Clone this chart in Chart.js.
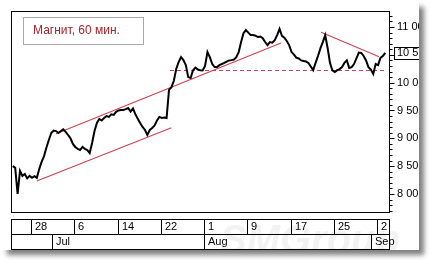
<!DOCTYPE html>
<html><head><meta charset="utf-8">
<script src="https://cdn.jsdelivr.net/npm/chart.js@4.4.1/dist/chart.umd.min.js"></script>
<style>
html,body{margin:0;padding:0;background:#fff;width:432px;height:262px;overflow:hidden}
#wrap{position:absolute;left:0;top:0;width:419px;height:250px;background:#fff;box-shadow:6px 6px 5px -1px rgba(0,0,0,0.5);}
canvas{display:block}
</style></head><body>
<div id="wrap"><canvas id="c" width="419" height="250"></canvas></div>
<script>
const titleText = 'Магнит, 60 мин.';
// hourly closes (one value per bar position)
const prices = [
 8500,8470,8000,8415,8325,8360,8280,8325,8290,8320,
 8290,8450,8575,8680,8835,8970,9095,9140,9130,9095,
 9130,9160,9115,9060,9000,8900,8845,8810,8790,8845,
 8810,8790,8735,8915,9130,9275,9350,9320,9365,9400,
 9385,9430,9420,9475,9500,9510,9510,9525,9545,9480,
 9535,9435,9350,9275,9205,9150,9060,9150,9185,9230,
 9320,9385,9365,9375,9365,9870,9920,10030,10245,10370,
 10460,10405,10315,10100,10085,10225,10270,10235,10225,10220,
 10300,10550,10460,10335,10280,10280,10315,10335,10355,10380,
 10400,10405,10415,10460,10550,10730,10890,10945,10900,10855,
 10855,10845,10820,10830,10800,10730,10675,10730,10720,10765,
 10855,10965,10840,10810,10750,10675,10550,10505,10450,10435,
 10400,10390,10380,10355,10290,10225,10355,10480,10615,10730,
 10855,10625,10355,10220,10190,10225,10245,10280,10355,10400,
 10265,10280,10335,10435,10540,10535,10480,10400,10280,10235,
 10155,10335,10315,10445,10480,10535
];
const dayTicks = [8,26,44,62,80,98,116,134,152];
const dayLabels = ['28','6','14','22','1','9','17','25','2'];
const monthStarts = [16.7,80,149.4];
const monthLabels = ['Jul','Aug','Sep'];
const channelLow = [[10,8235],[66,9190]];
const channelHigh = [[18,9082],[111.6,10715]];
const supportLine = [[65.4,10218],[154.5,10218]];
const resistLine = [[128.3,10905],[152.4,10466]];
const yMin = 7676, yMax = 11288, yMajor = 500, yMinor = 100;
const xMin = -0.75, xMax = 156.55;

const fmt = v => String(Math.round(v)).replace(/\B(?=(\d{3})+(?!\d))/g,' ');
const toXY = arr => arr.map(p => ({x:p[0], y:p[1]}));
const RED = 'rgb(208,64,80)';
Chart.defaults.font.family = 'Liberation Sans';

const decor = {
  id:'decor',
  afterDraw(chart){
    const {ctx, chartArea:a, scales:{x, y}} = chart;
    ctx.save();
    ctx.strokeStyle = '#000'; ctx.lineWidth = 1;
    ctx.strokeRect(a.left+0.5, a.top+0.5, a.right-a.left, a.bottom-a.top);
    for(let v=Math.ceil(yMin/yMinor)*yMinor; v<=yMax; v+=yMinor){
      const py = Math.round(y.getPixelForValue(v))+0.5;
      ctx.beginPath(); ctx.moveTo(a.right+0.5, py);
      ctx.lineTo(a.right+0.5+(v%yMajor===0?5:3), py); ctx.stroke();
    }
    const last = prices[prices.length-1];
    const lp = y.getPixelForValue(last);
    ctx.fillStyle = '#fff';
    ctx.fillRect(a.right+5, lp-6, 30, 12);
    ctx.strokeRect(a.right+5.5, Math.round(lp-6)+0.5, 29, 12);
    ctx.fillStyle = '#000'; ctx.font = '11px Liberation Sans'; ctx.textBaseline='middle'; ctx.textAlign='left';
    ctx.fillText(fmt(last), a.right+8, lp+0.5);
    ctx.fillStyle = '#fff';
    ctx.fillRect(a.left+12, a.top+6, 120, 27);
    ctx.strokeStyle = '#a8a8a8';
    ctx.strokeRect(a.left+12.5, a.top+6.5, 120, 27);
    ctx.fillStyle = '#a3232e'; ctx.font = '12px Liberation Sans';
    ctx.fillText(titleText, a.left+22, a.top+20);
    ctx.fillStyle = 'rgba(0,0,0,0.05)';
    ctx.font = 'italic bold 40px Liberation Sans';
    ctx.textBaseline = 'alphabetic';
    ctx.fillText('SMGroup', 220, 253);
    const r1 = a.bottom+7, r2 = r1+15, r3 = r2+15;
    ctx.strokeStyle = '#000';
    ctx.beginPath();
    [r1,r2,r3].forEach(r => { ctx.moveTo(a.left+0.5, r+0.5); ctx.lineTo(a.right+0.5, r+0.5); });
    ctx.moveTo(a.left+0.5, r1); ctx.lineTo(a.left+0.5, r3+1);
    ctx.moveTo(a.right+0.5, r1); ctx.lineTo(a.right+0.5, r3+1);
    dayTicks.forEach(t => { const px = Math.round(x.getPixelForValue(t))-0.5; ctx.moveTo(px, r1); ctx.lineTo(px, r2+1); });
    monthStarts.forEach(t => { const px = Math.round(x.getPixelForValue(t))-0.5; ctx.moveTo(px, r2); ctx.lineTo(px, r3+1); });
    ctx.stroke();
    ctx.fillStyle = '#000'; ctx.font = '11px Liberation Sans'; ctx.textBaseline = 'middle';
    dayTicks.forEach((t,k) => ctx.fillText(dayLabels[k], Math.round(x.getPixelForValue(t))+3, r1+8));
    monthStarts.forEach((t,k) => ctx.fillText(monthLabels[k], Math.round(x.getPixelForValue(t))+3, r2+8));
    ctx.restore();
  }
};

new Chart(document.getElementById('c'), {
  type:'line',
  data:{datasets:[
    {data: prices.map((v,i)=>({x:i,y:v})), borderColor:'#000', borderWidth:2, pointRadius:0, tension:0},
    {data: toXY(channelLow), borderColor:RED, borderWidth:1.1, pointRadius:0},
    {data: toXY(channelHigh), borderColor:RED, borderWidth:1.1, pointRadius:0},
    {data: toXY(supportLine), borderColor:RED, borderWidth:1.1, pointRadius:0, borderDash:[4,3]},
    {data: toXY(resistLine), borderColor:RED, borderWidth:1.1, pointRadius:0}
  ]},
  options:{
    responsive:false, animation:false, devicePixelRatio:1,
    layout:{padding:{left:11, top:11, right:0, bottom:38}},
    plugins:{legend:{display:false}, tooltip:{enabled:false}},
    scales:{
      x:{type:'linear', min:xMin, max:xMax, display:false},
      y:{position:'right', min:yMin, max:yMax,
         afterFit(s){ s.width = 30; },
         border:{display:false},
         grid:{drawOnChartArea:false, tickLength:5, tickColor:'rgba(0,0,0,0)'},
         ticks:{stepSize:yMinor, autoSkip:false, padding:3, color:'#000', font:{size:11},
                callback:v => v%yMajor===0 ? fmt(v) : ''}}
    }
  },
  plugins:[decor]
});
</script>
</body></html>
